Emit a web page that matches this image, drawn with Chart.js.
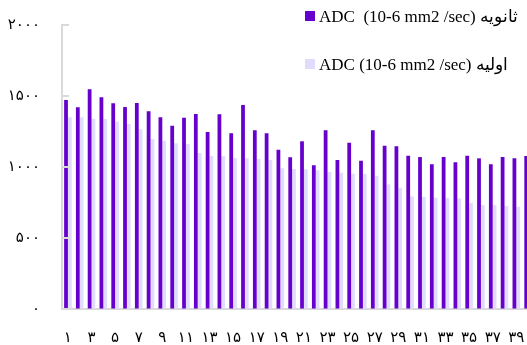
<!DOCTYPE html>
<html>
<head>
<meta charset="utf-8">
<script src="https://cdn.jsdelivr.net/npm/chart.js@4"></script>
<style>
  html, body { margin: 0; padding: 0; background: #fff; overflow: hidden; width: 527px; height: 345px; }
  #wrap { position: relative; width: 527px; height: 345px; overflow: hidden; }
  #chart { position: absolute; left: 0; top: 0; }
  .item { position: absolute; left: 305px; font-family: 'Liberation Serif', 'Times New Roman', serif; font-size: 17px; color: #000; white-space: pre; line-height: 20px; }
  .item .box { display: inline-block; width: 10px; height: 10px; margin-right: 4px; vertical-align: 1px; }
</style>
</head>
<body>
<div id="wrap">
  <canvas id="chart" width="534" height="345" style="width:534px;height:345px"></canvas>
  <div id="legend"></div>
</div>
<script>
// categorias (numeração persa)
const categories = ['۱','۲','۳','۴','۵','۶','۷','۸','۹','۱۰','۱۱','۱۲','۱۳','۱۴','۱۵','۱۶','۱۷','۱۸','۱۹','۲۰',
  '۲۱','۲۲','۲۳','۲۴','۲۵','۲۶','۲۷','۲۸','۲۹','۳۰','۳۱','۳۲','۳۳','۳۴','۳۵','۳۶','۳۷','۳۸','۳۹','۴۰'];

// ADC secundário (barras escuras)
const adcSecondary = [1472, 1420, 1547, 1491, 1449, 1422, 1451, 1392, 1350, 1291,
  1347, 1373, 1246, 1371, 1237, 1437, 1258, 1237, 1122, 1068,
  1181, 1012, 1258, 1049, 1171, 1044, 1258, 1150, 1146, 1080,
  1070, 1019, 1070, 1033, 1080, 1061, 1019, 1070, 1061, 1077];

// ADC primário (barras claras)
const adcPrimary = [1350, 1350, 1340, 1338, 1319, 1303, 1265, 1197, 1185, 1167,
  1162, 1099, 1077, 1075, 1063, 1061, 1056, 1049, 991, 986,
  984, 977, 965, 960, 953, 951, 939, 878, 854, 793,
  789, 784, 782, 779, 746, 732, 732, 725, 720, 715];

const seriesLabels = ['ADC  (10-6 mm2 /sec) ثانویه', 'ADC (10-6 mm2 /sec) اولیه'];
const yTickLabels = ['۰', '۵۰۰', '۱۰۰۰', '۱۵۰۰', '۲۰۰۰'];

const colors = ['#6600CC', '#E1DBFD'];
const axisColor = '#d9d9d9';
const tickFont = { family: "'Liberation Serif', 'DejaVu Sans', serif", size: 15 };

// marcas curtas para dentro no eixo Y
const innerTicks = {
  id: 'innerTicks',
  afterDraw(chart) {
    const y = chart.scales.y;
    const ctx = chart.ctx;
    ctx.save();
    ctx.strokeStyle = axisColor;
    ctx.lineWidth = 2;
    y.ticks.forEach((t, i) => {
      const py = y.getPixelForTick(i);
      ctx.beginPath();
      ctx.moveTo(y.right, py);
      ctx.lineTo(y.right + 7, py);
      ctx.stroke();
    });
    ctx.restore();
  }
};

const ctx = document.getElementById('chart').getContext('2d');

// grade invisível só para afastar os rótulos do eixo (sem padding extra nas bordas)
const hiddenGrid = len => ({ display: true, drawOnChartArea: false, drawTicks: true, tickLength: len, tickColor: 'rgba(0,0,0,0)' });

let chart = new Chart(ctx, {
  type: 'bar',
  data: {
    labels: categories,
    datasets: [
      { label: seriesLabels[0], data: adcSecondary, backgroundColor: colors[0], borderWidth: 0 },
      { label: seriesLabels[1], data: adcPrimary, backgroundColor: colors[1], borderWidth: 0 }
    ]
  },
  options: {
    responsive: false,
    animation: false,
    layout: { padding: { top: 25, left: 0, right: 0, bottom: 0 } },
    datasets: { bar: { categoryPercentage: 0.64, barPercentage: 1.0 } },
    plugins: { legend: { display: false }, tooltip: { enabled: false } },
    scales: {
      x: {
        grid: hiddenGrid(20),
        border: { display: true, color: axisColor, width: 2 },
        ticks: {
          autoSkip: false, maxRotation: 0, padding: 0, color: '#000', font: tickFont,
          callback: (v, i) => (i % 2 === 0 ? categories[i] : '')
        },
        afterFit: s => { s.height = 36; }
      },
      y: {
        min: 0, max: 2000,
        grid: hiddenGrid(22),
        border: { display: true, color: axisColor, width: 2 },
        ticks: {
          stepSize: 500, padding: 0, color: '#000', font: tickFont,
          callback: v => yTickLabels[v / 500]
        },
        afterFit: s => { s.width = 62; }
      }
    }
  },
  plugins: [innerTicks]
});

// legenda em HTML (duas linhas, canto superior direito)
const legendEl = document.getElementById('legend');
const legendTops = [7, 55];
chart.data.datasets.forEach((ds, i) => {
  const div = document.createElement('div');
  div.className = 'item';
  div.style.top = legendTops[i] + 'px';
  const box = document.createElement('span');
  box.className = 'box';
  box.style.background = ds.backgroundColor;
  div.appendChild(box);
  div.appendChild(document.createTextNode(ds.label));
  legendEl.appendChild(div);
});
</script>
</body>
</html>
